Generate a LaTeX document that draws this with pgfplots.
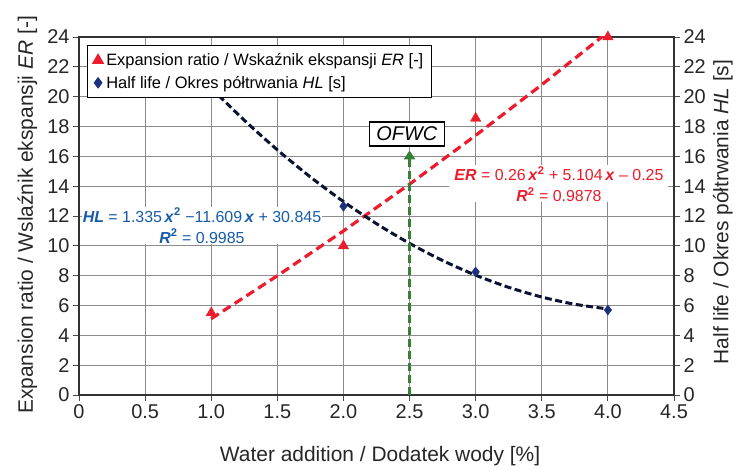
\documentclass[border=0pt]{standalone}
\usepackage{fontspec}
\setmainfont{Liberation Sans}
\usepackage{pgfplots}
\pgfplotsset{compat=1.18}
\usetikzlibrary{arrows.meta}
\definecolor{erred}{RGB}{236,28,44}
\definecolor{hlblue}{RGB}{28,48,125}
\definecolor{eqblue}{RGB}{22,92,170}
\definecolor{ofgreen}{RGB}{52,128,52}
\definecolor{gridgray}{RGB}{140,140,140}
\begin{document}
\begin{tikzpicture}
\useasboundingbox (-79bp,-75bp) rectangle (660bp,395bp);
\begin{axis}[
  at={(0,0)}, anchor=south west,
  scale only axis, width=595bp, height=358bp,
  xmin=0, xmax=4.5, ymin=0, ymax=24,
  xtick={0,0.5,1,1.5,2,2.5,3,3.5,4,4.5},
  xticklabels={0,0.5,1.0,1.5,2.0,2.5,3.0,3.5,4.0,4.5},
  ytick={0,2,4,6,8,10,12,14,16,18,20,22,24},
  xtick pos=bottom, ytick pos=left,
  tick align=outside, major tick length=6bp,
  grid=major, major grid style={gridgray, line width=0.9pt},
  axis line style={black!80, line width=1.1pt},
  tick style={black!70, line width=0.9pt},
  /pgf/number format/assume math mode=true,
  ticklabel style={font=\fontsize{20}{22}\selectfont, text=black!85},
  xlabel={Water addition / Dodatek wody [\%]},
  ylabel={Expansion ratio / Wslaźnik ekspansji \textit{ER} [-]},
  label style={font=\fontsize{21}{24}\selectfont, text=black!85},
  xlabel style={at={(axis description cs:0.506,-0.172)}, anchor=center},
  ylabel style={at={(axis description cs:-0.087,0.503)}, anchor=center, rotate=0},
  legend style={at={(0.014,0.978)}, anchor=north west, draw=black, line width=1.1pt,
    font=\fontsize{16.5}{19}\selectfont, row sep=7bp, inner xsep=5bp, inner ysep=7bp,
    fill=white, nodes={inner xsep=3bp, inner ysep=1bp}},
  legend cell align=left,
]
% trend lines (from the printed equations)
\addplot[forget plot, erred, line width=3.2bp, dash pattern=on 9bp off 5bp] coordinates {
 (1,5.114) (1.5,7.991) (2,10.998) (2.5,14.135) (3,17.402) (3.5,20.799) (4,24.326)};
\addplot[forget plot, hlblue!40!black, line width=3bp, dash pattern=on 7bp off 3.5bp, smooth] coordinates {
 (1,20.571) (1.25,18.42) (1.5,16.435) (1.75,14.617) (2,12.967) (2.25,11.483) (2.5,10.166)
 (2.75,9.016) (3,8.033) (3.25,7.217) (3.5,6.567) (3.75,6.084) (4,5.769)};
% OFWC arrow
\addplot[forget plot, ofgreen, line width=3bp, dash pattern=on 8bp off 4bp,
  -{Triangle[length=9bp,width=11bp]}] coordinates {(2.5,0) (2.5,16.4)};
% data
\addplot[only marks, mark=triangle*, mark size=6bp, color=erred, fill=erred] coordinates {
 (1,5.5) (2,10.0) (3,18.55) (4,24.0)};
\addlegendentry{Expansion ratio / Wskaźnik ekspansji \textit{ER} [-]}
\addplot[only marks, mark=diamond*, mark size=5bp, color=hlblue, fill=hlblue] coordinates {
 (1,20.6) (2,12.65) (3,8.25) (4,5.7)};
\addlegendentry{Half life / Okres półtrwania \textit{HL} [s]}
\node[fill=white, align=center, text=eqblue, font=\fontsize{16}{21}\selectfont, inner sep=1bp]
  at (axis cs:0.93,11.35)
  {\textbf{\textit{HL}} = 1.335\,\textbf{\textit{x}}\textsuperscript{\textbf{2}} −11.609\,\textbf{\textit{x}} + 30.845\\
   \textbf{\textit{R}}\textsuperscript{\textbf{2}} = 0.9985};
\node[fill=white, align=center, text=erred, font=\fontsize{16}{21}\selectfont, inner xsep=5bp, inner ysep=1bp]
  at (axis cs:3.63,14.15)
  {\textbf{\textit{ER}} = 0.26\,\textbf{\textit{x}}\textsuperscript{\textbf{2}} + 5.104\,\textbf{\textit{x}} – 0.25\\
   \textbf{\textit{R}}\textsuperscript{\textbf{2}} = 0.9878};
\node[draw=black, line width=1.1pt, fill=white, font=\fontsize{20}{22}\selectfont\itshape,
  minimum width=75bp, minimum height=24bp, inner sep=1bp] at (axis cs:2.48,17.5) {OFWC};
\end{axis}
\begin{axis}[
  at={(0,0)}, anchor=south west,
  scale only axis, width=595bp, height=358bp,
  xmin=0, xmax=4.5, ymin=0, ymax=24,
  axis x line=none, axis y line*=right,
  ytick={0,2,4,6,8,10,12,14,16,18,20,22,24},
  tick align=outside, major tick length=6bp,
  axis line style={black!80, line width=1.1pt, -},
  tick style={black!70, line width=0.9pt},
  /pgf/number format/assume math mode=true,
  ticklabel style={font=\fontsize{20}{22}\selectfont, text=black!85},
  ylabel={Half life / Okres półtrwania \textit{HL} [s]},
  label style={font=\fontsize{21}{24}\selectfont, text=black!85},
  ylabel style={at={(axis description cs:1.082,0.511)}, anchor=center, rotate=0},
]
\addplot[draw=none, forget plot] coordinates {(0,0) (4.5,24)};
\end{axis}
\end{tikzpicture}
\end{document}
